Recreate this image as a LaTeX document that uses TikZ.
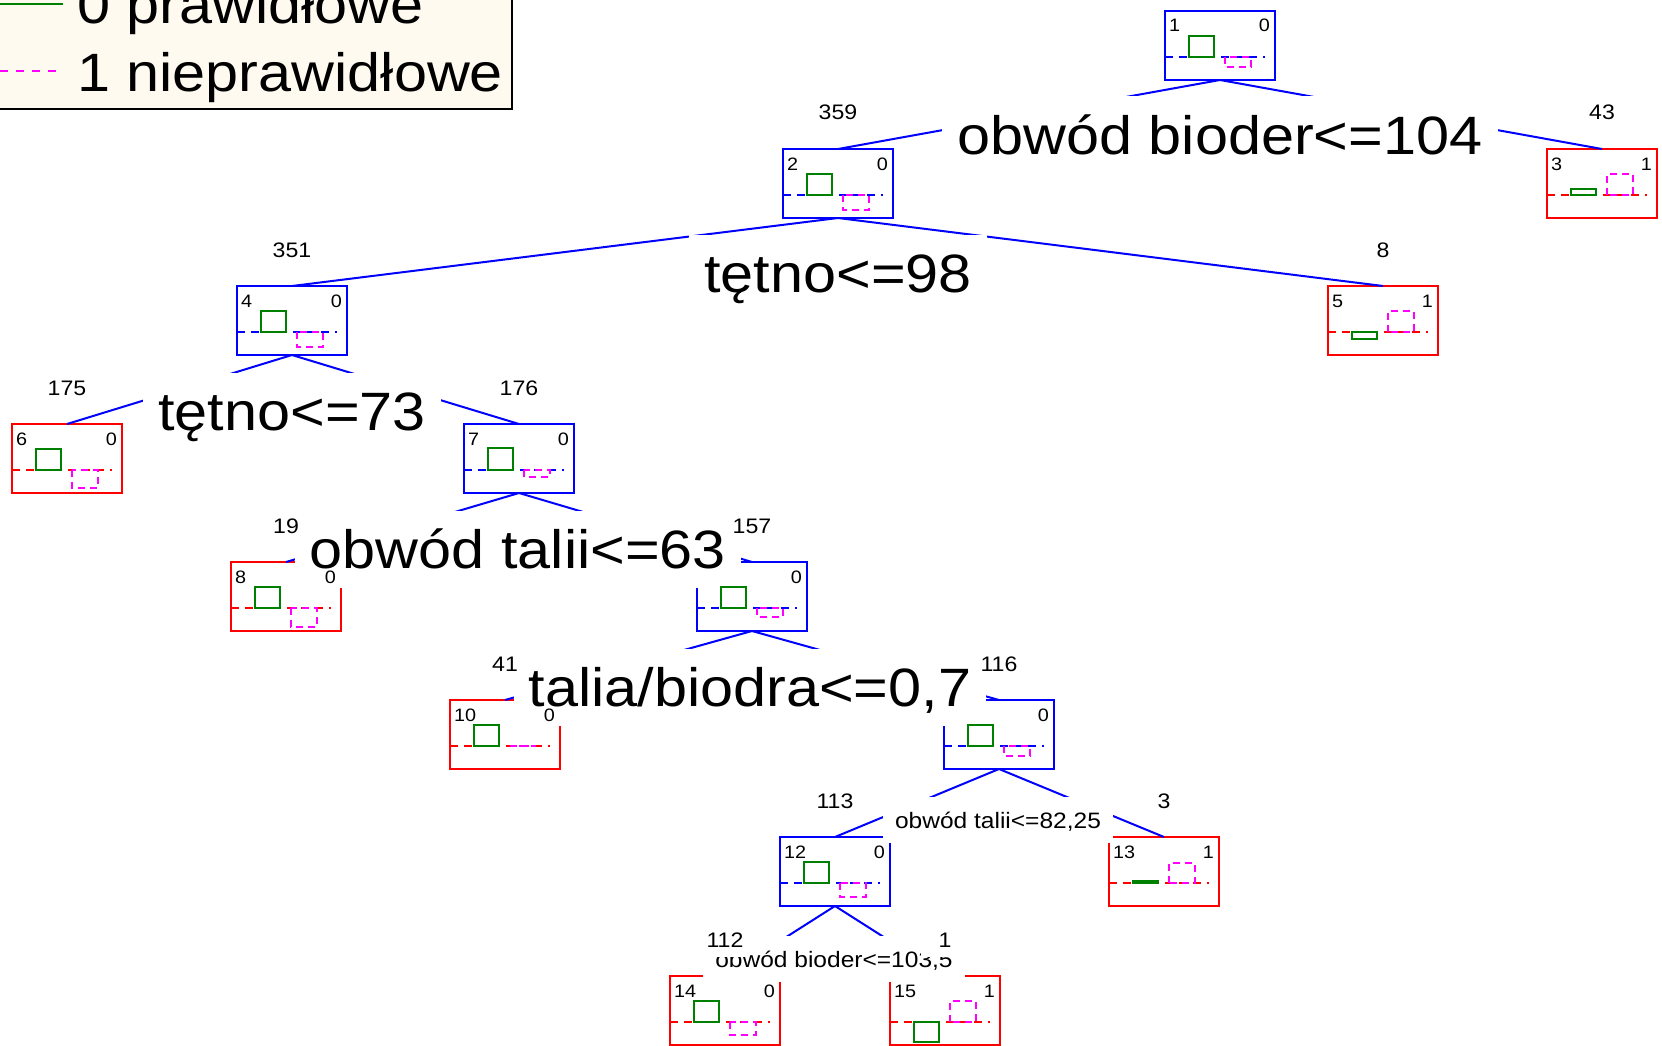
\documentclass[tikz,border=0pt]{standalone}
\usepackage{fontspec}
\setmainfont{Liberation Sans}[FakeStretch=1.1]
\newcommand\fbig{\fontsize{54}{60}\selectfont}
\newcommand\fsmall{\fontsize{22.3}{26}\selectfont}
\newcommand\fcount{\fontsize{21}{24}\selectfont}
\newcommand\fid{\fontsize{18}{21}\selectfont}
\definecolor{tblue}{RGB}{0,0,255}
\definecolor{tred}{RGB}{255,0,0}
\definecolor{tgreen}{RGB}{0,128,0}
\definecolor{tmag}{RGB}{255,0,255}
\definecolor{legbg}{RGB}{255,250,240}
\tikzset{
  tbox/.style={draw, line width=2pt, minimum width=110pt, minimum height=69pt, inner sep=0pt, outer sep=0pt, anchor=north west},
  intbox/.style={tbox, draw=tblue},
  leafbox/.style={tbox, draw=tred},
  conn/.style={draw=tblue, line width=2pt},
  splitbig/.style={fill=white, font=\fbig, inner xsep=15pt, inner ysep=0pt, minimum height=77pt, text height=38.7pt, text depth=0pt},
  splitsmall/.style={fill=white, font=\fsmall, inner xsep=12pt, inner ysep=0pt, minimum height=46pt, text height=16pt, text depth=0pt},
  countlab/.style={font=\fcount, anchor=base, inner sep=0pt},
  countbg/.style={countlab, fill=white, minimum width=48pt, text height=16pt, text depth=10pt},
  idlab/.style={font=\fid, anchor=base west, inner sep=0pt},
  clslab/.style={font=\fid, anchor=base east, inner sep=0pt},
  baseln/.style={line width=2pt, dash pattern=on 8pt off 6pt},
  gbar/.style={draw=tgreen, line width=2pt},
  mbar/.style={draw=tmag, line width=2pt, dash pattern=on 7pt off 5pt},
  legtext/.style={font=\fbig, anchor=base west, inner sep=0pt},
}
\newcommand\boxfill[6]{%
  \begin{scope}[shift={(#1.north west)}]
    \draw[baseln, #2] (0,46) -- (100,46);
    \draw[gbar] (24,46) rectangle (49,{46-(#5)});
    \draw[mbar] (60,46) rectangle (86,{46-(#6)});
    \node[idlab] (#1id) at (4,21) {#3};
    \node[clslab] (#1cl) at (105,21) {#4};
  \end{scope}}
\begin{document}
\begin{tikzpicture}[x=1pt,y=-1pt]
\useasboundingbox (0,0) rectangle (1662,1046);
% legend
\node[draw=black, fill=legbg, line width=2pt, anchor=south east, minimum width=520pt, minimum height=116pt, inner sep=0pt, outer sep=0pt] (legend) at (512,109) {};
\draw[tgreen, line width=2pt] (0,4) -- (63,4);
\draw[tmag, line width=2pt, dash pattern=on 8pt off 8pt] (0,71) -- (63,71);
\node[legtext] (leg0) at (77,24) {0 prawidłowe};
\node[legtext] (leg1) at (77,92) {1 nieprawidłowe};
% frames
\node[intbox] (n1) at (1165,11) {};
\node[intbox] (n2) at (783,149) {};
\node[leafbox] (n3) at (1547,149) {};
\node[intbox] (n4) at (237,286) {};
\node[leafbox] (n5) at (1328,286) {};
\node[leafbox] (n6) at (12,424) {};
\node[intbox] (n7) at (464,424) {};
\node[leafbox] (n8) at (231,562) {};
\node[intbox] (n9) at (697,562) {};
\node[leafbox] (n10) at (450,700) {};
\node[intbox] (n11) at (944,700) {};
\node[intbox] (n12) at (780,837) {};
\node[leafbox] (n13) at (1109,837) {};
\node[leafbox] (n14) at (670,976) {};
\node[leafbox] (n15) at (890,976) {};
% connectors
\draw[conn] (n1.south) -- (n2.north);
\draw[conn] (n1.south) -- (n3.north);
\draw[conn] (n2.south) -- (n4.north);
\draw[conn] (n2.south) -- (n5.north);
\draw[conn] (n4.south) -- (n6.north);
\draw[conn] (n4.south) -- (n7.north);
\draw[conn] (n7.south) -- (n8.north);
\draw[conn] (n7.south) -- (n9.north);
\draw[conn] (n9.south) -- (n10.north);
\draw[conn] (n9.south) -- (n11.north);
\draw[conn] (n11.south) -- (n12.north);
\draw[conn] (n11.south) -- (n13.north);
\draw[conn] (n12.south) -- (n14.north);
\draw[conn] (n12.south) -- (n15.north);
% split labels
\node[splitbig] (s1) at (1220,135) {obwód bioder<=104};
\node[splitbig] (s2) at (838,273) {tętno<=98};
\node[splitbig] (s4) at (292,411) {tętno<=73};
\node[splitbig] (s7) at (518,549) {obwód talii<=63};
\node[splitbig] (s9) at (750,687) {talia/biodra<=0,7};
\node[splitsmall] (s11) at (998,820) {obwód talii<=82,25};
\node[splitsmall] (s12) at (834,959) {obwód bioder<=103,5};
% box contents
\boxfill{n1}{tblue}{1}{0}{21}{-10}
\boxfill{n2}{tblue}{2}{0}{21}{-15}
\boxfill{n3}{tred}{3}{1}{6}{21}
\boxfill{n4}{tblue}{4}{0}{21}{-15}
\boxfill{n5}{tred}{5}{1}{-7}{21}
\boxfill{n6}{tred}{6}{0}{21}{-18}
\boxfill{n7}{tblue}{7}{0}{22}{-7}
\boxfill{n8}{tred}{8}{0}{21}{-19}
\boxfill{n9}{tblue}{}{0}{21}{-9}
\boxfill{n10}{tred}{10}{0}{21}{0}
\boxfill{n11}{tblue}{}{0}{21}{-10}
\boxfill{n12}{tblue}{12}{0}{21}{-14}
\boxfill{n13}{tred}{13}{1}{2}{20}
\boxfill{n14}{tred}{14}{0}{21}{-13}
\boxfill{n15}{tred}{15}{1}{-20}{21}
% counts
\node[countlab] (c2) at (838,120) {359};
\node[countlab] (c3) at (1602,120) {43};
\node[countlab] (c4) at (292,257) {351};
\node[countlab] (c5) at (1383,257) {8};
\node[countlab] (c6) at (67,395) {175};
\node[countlab] (c7) at (519,395) {176};
\node[countlab] (c8) at (286,533) {19};
\node[countlab] (c9) at (752,533) {157};
\node[countlab] (c10) at (505,671) {41};
\node[countlab] (c11) at (999,671) {116};
\node[countlab] (c12) at (835,808) {113};
\node[countlab] (c13) at (1164,808) {3};
\node[countbg] (c14) at (725,947) {112};
\node[countbg] (c15) at (945,947) {1};
\end{tikzpicture}
\end{document}
